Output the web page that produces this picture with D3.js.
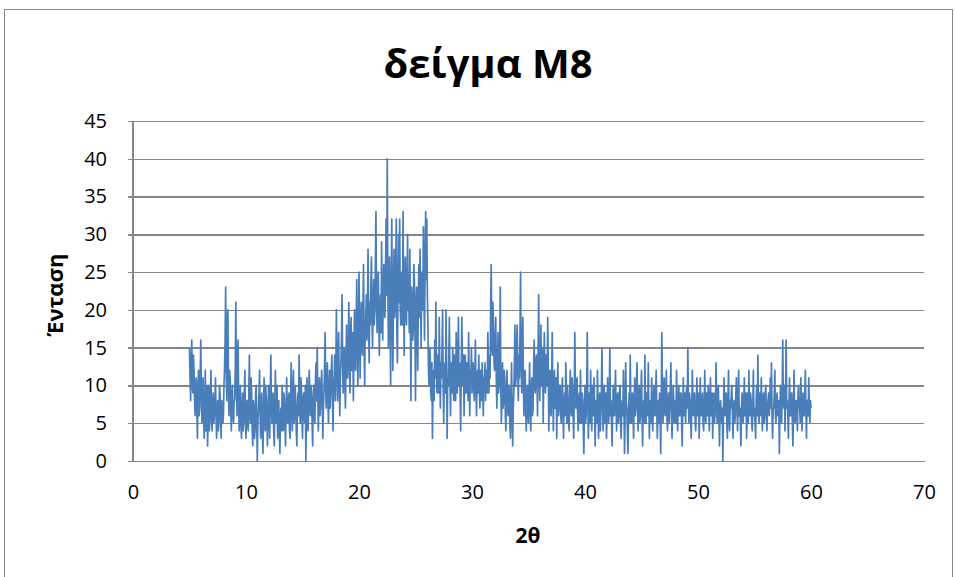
<!DOCTYPE html>
<html>
<head>
<meta charset="utf-8">
<script src="https://cdn.jsdelivr.net/npm/d3@7"></script>
<style>
  html, body { margin: 0; padding: 0; background: #fff; }
  svg { display: block; }
</style>
</head>
<body>
<svg id="chart" width="955" height="577"></svg>
<script>
// ---- data ----
const chartTitle = "δείγμα M8";
const xTitle = "2θ";
const yTitle = "Ένταση";
const xTicks = [0, 10, 20, 30, 40, 50, 60, 70];
const yTicks = [0, 5, 10, 15, 20, 25, 30, 35, 40, 45];
const angleStart = 5;      // first 2θ value
const angleStep = 0.05;    // 2θ sampling step
// one row per degree of 2θ (5 … 59), 20 readings each, last value at 60
const intensity = [
  15,11, 8,13, 16,10, 9,14, 12,8, 6,10, 11,7, 3,9, 12,6, 7,11,
  16,9, 5,8, 11,6, 3,7, 12,4, 7,10, 2,6, 10,4, 5,9, 12,6,
  4,7, 9,5, 6,8, 11,6, 3,7, 8,4, 5,10, 9,6, 3,8, 7,5,
  6,10, 12,16, 23,12, 8,19, 20,9, 6,12, 11,7, 4,9, 10,6, 5,8,
  8,12, 21,10, 6,12, 16,7, 4,8, 10,5, 3,7, 9,4, 5,9, 12,6,
  3,7, 8,5, 4,9, 14,6, 5,11, 9,4, 2,8, 7,3, 4,9, 10,5,
  0,5, 7,9, 12,6, 3,8, 9,4, 1,6, 11,7, 4,10, 8,5, 2,7,
  10,6, 3,9, 14,7, 5,8, 9,4, 2,7, 12,5, 6,10, 3,6, 8,4,
  1,6, 7,4, 10,6, 4,9, 8,5, 2,7, 11,6, 5,8, 9,4, 3,8,
  13,7, 4,9, 12,5, 6,10, 8,4, 2,7, 9,6, 14,8, 5,11, 10,6,
  3,8, 9,6, 5,10, 0,7, 11,5, 4,9, 12,7, 6,10, 9,5, 2,8,
  10,7, 5,11, 13,8, 15,9, 4,8, 11,6, 7,10, 12,8, 3,7, 9,12,
  17,10, 7,11, 13,8, 5,10, 12,7, 9,12, 14,9, 4,10, 11,14, 8,12,
  20,12, 8,14, 17,10, 6,11, 13,16, 22,13, 9,12, 15,10, 7,13, 18,11,
  11,15, 21,14, 9,16, 19,12, 13,17, 8,14, 20,13, 12,18, 24,15, 10,16,
  25,17, 11,18, 21,15, 14,20, 26,16, 10,18, 19,22, 16,20, 28,18, 13,21,
  18,23, 27,19, 15,21, 24,18, 20,26, 33,21, 17,23, 25,19, 14,20, 22,17,
  29,21, 16,23, 26,20, 19,25, 32,22, 40,24, 15,21, 27,18, 10,22, 32,20,
  12,22, 28,19, 20,26, 32,17, 13,23, 30,21, 32,20, 18,24, 25,18, 33,22,
  14,25, 27,19, 18,24, 30,20, 22,17, 28,18, 8,23, 21,16, 17,26, 24,19,
  8,20, 23,17, 12,22, 26,19, 28,21, 15,25, 24,20, 31,22, 16,27, 33,24,
  32,22, 18,12, 10,15, 14,9, 8,13, 3,10, 12,8, 16,11, 21,13, 9,14,
  14,9, 19,12, 7,13, 11,15, 20,10, 5,12, 13,9, 20,13, 3,11, 10,14,
  19,11, 6,13, 12,9, 15,10, 8,14, 11,8, 17,12, 9,14, 19,10, 13,9,
  4,12, 19,13, 10,14, 6,11, 14,9, 9,13, 12,8, 17,11, 6,12, 11,15,
  9,12, 13,10, 8,11, 16,10, 6,11, 12,9, 14,10, 7,12, 11,8, 13,10,
  6,11, 10,13, 8,12, 12,9, 17,12, 9,14, 11,20, 26,15, 14,21, 18,13,
  12,16, 19,11, 7,12, 17,9, 10,14, 23,10, 5,9, 13,7, 8,12, 11,6,
  4,9, 12,7, 6,10, 10,5, 3,8, 13,6, 2,7, 9,13, 18,10, 11,15,
  18,12, 8,14, 11,17, 25,13, 9,15, 19,10, 6,11, 12,7, 4,9, 10,6,
  5,9, 13,7, 4,10, 11,6, 7,12, 16,10, 9,13, 14,11, 6,15, 22,12,
  8,13, 18,10, 11,15, 5,12, 17,11, 9,14, 14,10, 19,12, 4,9, 12,7,
  6,11, 17,9, 4,10, 12,7, 8,11, 3,9, 13,6, 7,10, 10,6, 5,9,
  11,7, 3,8, 9,6, 13,9, 5,10, 8,5, 4,9, 12,7, 6,11, 10,6,
  3,8, 17,9, 7,10, 11,6, 4,8, 9,5, 12,7, 5,9, 8,4, 1,7,
  10,5, 6,9, 17,8, 3,7, 9,5, 12,7, 4,10, 8,6, 11,7, 2,8,
  7,5, 12,8, 3,7, 9,4, 6,9, 15,8, 4,7, 10,5, 7,9, 3,6,
  11,7, 5,9, 15,6, 8,5, 2,7, 10,6, 6,9, 12,7, 4,8, 9,5,
  6,9, 10,5, 3,7, 8,6, 12,7, 1,6, 13,8, 7,4, 1,6, 9,5,
  14,8, 5,7, 9,6, 3,8, 11,6, 7,9, 13,7, 4,8, 10,5, 6,9,
  12,6, 2,7, 8,5, 14,8, 5,9, 9,6, 13,7, 3,8, 7,5, 11,6,
  4,8, 10,6, 6,9, 12,7, 3,6, 8,5, 9,6, 1,8, 17,9, 5,7,
  11,7, 6,9, 12,6, 4,8, 9,5, 7,10, 13,7, 3,6, 10,8, 5,7,
  8,5, 12,7, 4,8, 10,6, 6,9, 9,5, 2,7, 11,6, 7,9, 5,8,
  10,7, 15,8, 5,9, 8,6, 3,7, 12,8, 6,9, 9,5, 4,7, 11,6,
  7,9, 3,6, 11,7, 6,8, 9,5, 4,7, 12,6, 5,9, 8,6, 10,7,
  4,8, 11,6, 7,9, 3,7, 9,5, 6,8, 13,7, 5,9, 10,6, 2,7,
  8,6, 5,7, 0,6, 11,7, 6,9, 9,5, 3,8, 12,6, 4,8, 7,9,
  10,6, 3,7, 8,5, 6,9, 11,7, 4,8, 12,6, 7,5, 2,7, 9,6,
  5,8, 11,6, 7,9, 3,6, 9,5, 12,7, 6,9, 8,5, 4,7, 12,6,
  7,5, 3,8, 10,6, 14,7, 5,9, 8,6, 11,7, 4,8, 9,5, 6,9,
  10,6, 4,7, 8,9, 6,8, 11,7, 13,6, 3,7, 7,9, 12,6, 5,8,
  9,6, 6,8, 1,7, 10,6, 5,9, 16,8, 7,10, 4,9, 16,7, 8,6,
  3,7, 11,6, 6,9, 9,5, 2,7, 12,6, 5,8, 8,6, 4,9, 10,7,
  7,5, 11,8, 4,7, 9,6, 6,9, 12,7, 3,8, 8,6, 11,7, 5,8,
  7
];

// ---- layout ----
const W = 955, H = 577;
const plot = { left: 133, right: 924, top: 121, bottom: 461 };
const font = "'Open Sans', 'Noto Sans', 'DejaVu Sans', sans-serif";
const gridColor = "#868686";
const lineColor = "#4a7ebb";

const svg = d3.select("#chart");

svg.append("rect")
  .attr("x", 0).attr("y", 0).attr("width", W).attr("height", H)
  .attr("fill", "#fff");

// outer chart border
svg.append("rect")
  .attr("x", 4.5).attr("y", 9.5).attr("width", 948).attr("height", 580)
  .attr("fill", "none").attr("stroke", gridColor).attr("stroke-width", 1);

const x = d3.scaleLinear().domain([0, 70]).range([plot.left, plot.right]);
const y = d3.scaleLinear().domain([0, 45]).range([plot.bottom, plot.top]);

// horizontal gridlines + left ticks
const yAxis = d3.axisLeft(y).tickValues(yTicks)
  .tickSize(-(plot.right - plot.left)).tickPadding(26)
  .tickFormat(d3.format("d"));
const gy = svg.append("g").attr("transform", `translate(${plot.left},0)`).call(yAxis);
gy.select(".domain").remove();
gy.selectAll(".tick line")
  .attr("x1", -5)
  .attr("stroke", gridColor).attr("stroke-width", 1.5)
  .attr("shape-rendering", "crispEdges");
gy.selectAll(".tick text")
  .attr("font-family", font).attr("font-size", 20).attr("fill", "#000")
  .attr("x", -26);

// left axis line
svg.append("line")
  .attr("x1", plot.left).attr("x2", plot.left)
  .attr("y1", plot.top).attr("y2", plot.bottom)
  .attr("stroke", gridColor).attr("stroke-width", 1.5)
  .attr("shape-rendering", "crispEdges");

// x axis
const xAxis = d3.axisBottom(x).tickValues(xTicks).tickSize(0).tickPadding(24)
  .tickFormat(d3.format("d"));
const gx = svg.append("g").attr("transform", `translate(0,${plot.bottom})`).call(xAxis);
gx.select(".domain").attr("stroke", gridColor).attr("stroke-width", 1.5)
  .attr("shape-rendering", "crispEdges");
gx.selectAll(".tick text")
  .attr("font-family", font).attr("font-size", 20).attr("fill", "#000");

// data line
const pts = intensity.map((v, i) => [angleStart + i * angleStep, v]);
const line = d3.line().x(d => x(d[0])).y(d => y(d[1]));
svg.append("path")
  .datum(pts)
  .attr("d", line)
  .attr("fill", "none")
  .attr("stroke", lineColor)
  .attr("stroke-width", 1.7)
  .attr("stroke-linejoin", "round");

// titles
svg.append("text")
  .attr("x", 488).attr("y", 78)
  .attr("text-anchor", "middle")
  .attr("font-family", font).attr("font-weight", "bold").attr("font-size", 40)
  .attr("fill", "#000")
  .text(chartTitle);

svg.append("text")
  .attr("x", 528).attr("y", 543)
  .attr("text-anchor", "middle")
  .attr("font-family", font).attr("font-weight", "bold").attr("font-size", 21)
  .attr("fill", "#000")
  .text(xTitle);

svg.append("text")
  .attr("transform", "translate(63,295) rotate(-90)")
  .attr("text-anchor", "middle")
  .attr("font-family", font).attr("font-weight", "bold").attr("font-size", 22)
  .attr("fill", "#000")
  .text(yTitle);
</script>
</body>
</html>
